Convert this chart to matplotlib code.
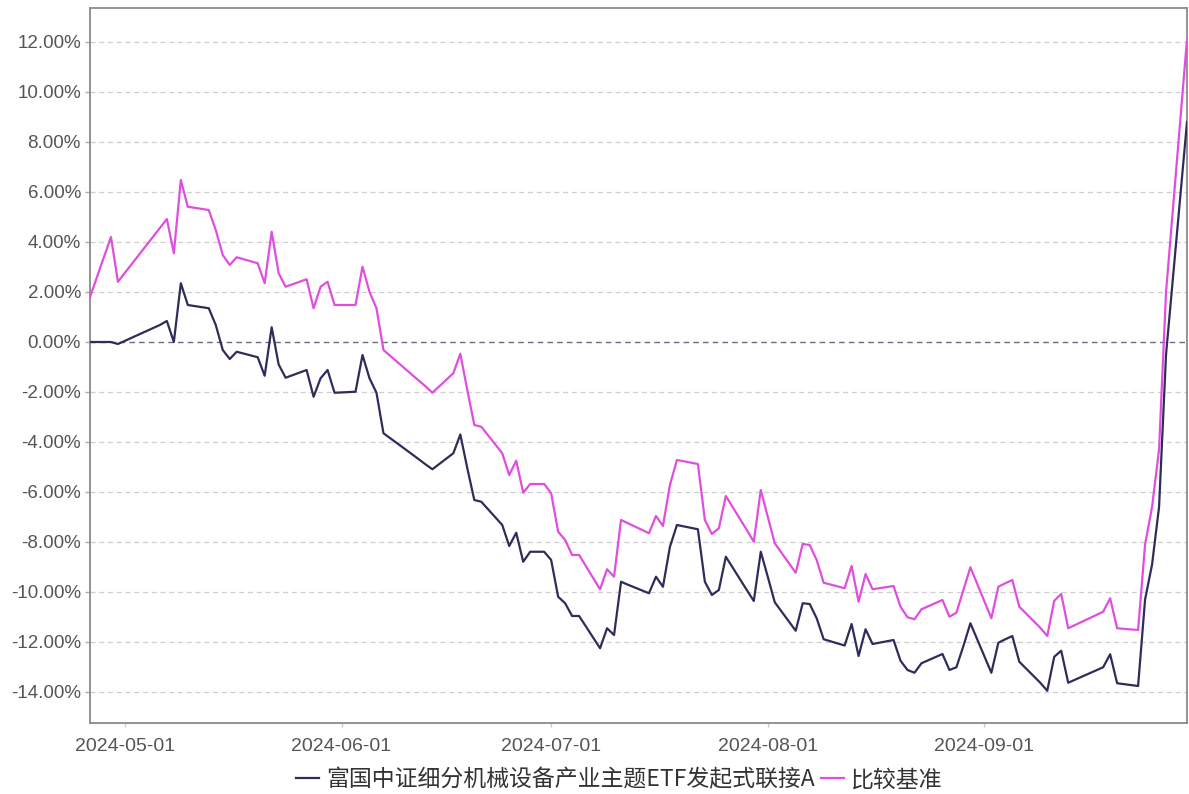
import matplotlib
matplotlib.use("Agg")
import matplotlib.pyplot as plt
from matplotlib.ticker import FuncFormatter
import pandas as pd

dates = [
    "2024-04-26", "2024-04-29", "2024-04-30",
    "2024-05-06", "2024-05-07", "2024-05-08", "2024-05-09", "2024-05-10",
    "2024-05-13", "2024-05-14", "2024-05-15", "2024-05-16", "2024-05-17",
    "2024-05-20", "2024-05-21", "2024-05-22", "2024-05-23", "2024-05-24",
    "2024-05-27", "2024-05-28", "2024-05-29", "2024-05-30", "2024-05-31",
    "2024-06-03", "2024-06-04", "2024-06-05", "2024-06-06", "2024-06-07",
    "2024-06-11", "2024-06-12", "2024-06-13", "2024-06-14",
    "2024-06-17", "2024-06-18", "2024-06-19", "2024-06-20", "2024-06-21",
    "2024-06-24", "2024-06-25", "2024-06-26", "2024-06-27", "2024-06-28", "2024-06-30",
    "2024-07-01", "2024-07-02", "2024-07-03", "2024-07-04", "2024-07-05",
    "2024-07-08", "2024-07-09", "2024-07-10", "2024-07-11", "2024-07-12",
    "2024-07-15", "2024-07-16", "2024-07-17", "2024-07-18", "2024-07-19",
    "2024-07-22", "2024-07-23", "2024-07-24", "2024-07-25", "2024-07-26",
    "2024-07-29", "2024-07-30", "2024-07-31", "2024-08-01", "2024-08-02",
    "2024-08-05", "2024-08-06", "2024-08-07", "2024-08-08", "2024-08-09",
    "2024-08-12", "2024-08-13", "2024-08-14", "2024-08-15", "2024-08-16",
    "2024-08-19", "2024-08-20", "2024-08-21", "2024-08-22", "2024-08-23",
    "2024-08-26", "2024-08-27", "2024-08-28", "2024-08-29", "2024-08-30",
    "2024-09-02", "2024-09-03", "2024-09-04", "2024-09-05", "2024-09-06",
    "2024-09-09", "2024-09-10", "2024-09-11", "2024-09-12", "2024-09-13",
    "2024-09-18", "2024-09-19", "2024-09-20",
    "2024-09-23", "2024-09-24", "2024-09-25", "2024-09-26", "2024-09-27",
    "2024-09-30",
]

fund = [
    0.00, 0.00, -0.08,
    0.68, 0.84, 0.00, 2.35, 1.48,
    1.35, 0.68, -0.32, -0.68, -0.39,
    -0.61, -1.35, 0.59, -0.90, -1.43,
    -1.12, -2.19, -1.45, -1.12, -2.03,
    -1.99, -0.52, -1.45, -2.03, -3.65,
    -4.47, -4.68, -4.89, -5.09,
    -4.45, -3.70, -5.05, -6.32, -6.39,
    -7.32, -8.16, -7.63, -8.79, -8.39, -8.39,
    -8.72, -10.19, -10.45, -10.96, -10.96,
    -12.25, -11.45, -11.72, -9.59, -9.71,
    -10.05, -9.39, -9.79, -8.19, -7.32,
    -7.49, -9.59, -10.12, -9.92, -8.59,
    -9.92, -10.36, -8.39, -9.39, -10.41,
    -11.55, -10.45, -10.48, -11.05, -11.89,
    -12.14, -11.28, -12.56, -11.49, -12.08,
    -11.92, -12.75, -13.12, -13.23, -12.85,
    -12.48, -13.12, -13.01, -12.16, -11.25,
    -13.23, -12.03, -11.89, -11.76, -12.79,
    -13.63, -13.95, -12.59, -12.35, -13.63,
    -13.01, -12.49, -13.65,
    -13.76, -10.30, -8.90, -6.60, -0.50,
    8.80,
]

benchmark = [
    1.80, 4.20, 2.41,
    4.56, 4.92, 3.55, 6.48, 5.41,
    5.28, 4.48, 3.48, 3.08, 3.39,
    3.15, 2.35, 4.41, 2.75, 2.21,
    2.51, 1.35, 2.21, 2.41, 1.48,
    1.48, 3.01, 2.01, 1.35, -0.32,
    -1.29, -1.53, -1.77, -2.03,
    -1.25, -0.47, -1.92, -3.32, -3.39,
    -4.45, -5.32, -4.75, -6.03, -5.68, -5.68,
    -6.05, -7.59, -7.92, -8.52, -8.52,
    -9.89, -9.09, -9.39, -7.12, -7.25,
    -7.65, -6.96, -7.36, -5.72, -4.72,
    -4.88, -7.12, -7.68, -7.45, -6.16,
    -7.52, -7.99, -5.92, -6.99, -8.05,
    -9.23, -8.08, -8.12, -8.72, -9.63,
    -9.85, -8.96, -10.39, -9.28, -9.89,
    -9.76, -10.59, -11.01, -11.09, -10.69,
    -10.32, -10.99, -10.83, -9.92, -9.01,
    -11.05, -9.79, -9.65, -9.52, -10.59,
    -11.43, -11.76, -10.35, -10.08, -11.45,
    -10.79, -10.25, -11.45,
    -11.52, -8.10, -6.60, -4.30, 2.00,
    12.10,
]

series_names = ["富国中证细分机械设备产业主题ETF发起式联接A", "比较基准"]
x_tick_labels = ["2024-05-01", "2024-06-01", "2024-07-01", "2024-08-01", "2024-09-01"]
y_ticks = [-14, -12, -10, -8, -6, -4, -2, 0, 2, 4, 6, 8, 10, 12]

x = pd.to_datetime(dates)

fig = plt.figure(figsize=(11.89, 7.94), dpi=100)
ax = fig.add_axes([90 / 1189, 1 - 723 / 794, (1187 - 90) / 1189, (723 - 8) / 794])

ax.plot(x, fund, color="#2e2d5a", lw=1.6, label=series_names[0], zorder=3)
ax.plot(x, benchmark, color="#e04ee0", lw=1.6, label=series_names[1], zorder=3)

ax.set_xlim(pd.Timestamp("2024-04-26"), pd.Timestamp("2024-09-30"))
ax.set_ylim(-15.24, 13.36)

ax.set_yticks(y_ticks)
ax.yaxis.set_major_formatter(FuncFormatter(lambda v, p: f"{v:.2f}%"))
ax.set_xticks(pd.to_datetime(x_tick_labels))
ax.set_xticklabels(x_tick_labels)

for v in y_ticks:
    if v == 0:
        ax.axhline(v, color="#6a6a80", lw=1.0, ls=(0, (4, 3)), zorder=1)
    else:
        ax.axhline(v, color="#cfcfcf", lw=0.9, ls=(0, (4, 3)), zorder=1)

for s in ax.spines.values():
    s.set_color("#8a8a8a")
    s.set_linewidth(1.3)

ax.tick_params(axis="y", length=3.5, width=1, color="#aaaaaa", pad=3,
               labelsize=13.5, labelcolor="#555555")
ax.tick_params(axis="x", length=3, width=1, color="#cccccc", pad=8,
               labelsize=14, labelcolor="#555555")
for lab in ax.get_xticklabels() + ax.get_yticklabels():
    lab.set_family(["Liberation Sans", "DejaVu Sans"])

leg = fig.legend(loc="center", bbox_to_anchor=(0.521, 1 - 780 / 794), ncol=2,
                 frameon=False, handlelength=1.0, handletextpad=0.3,
                 columnspacing=0.3,
                 prop={"family": ["Noto Sans CJK SC", "DejaVu Sans"], "size": 16.5,
                       "weight": "medium"})
for t in leg.get_texts():
    t.set_color("#333333")

fig.savefig("out.png", dpi=100, facecolor="white")
